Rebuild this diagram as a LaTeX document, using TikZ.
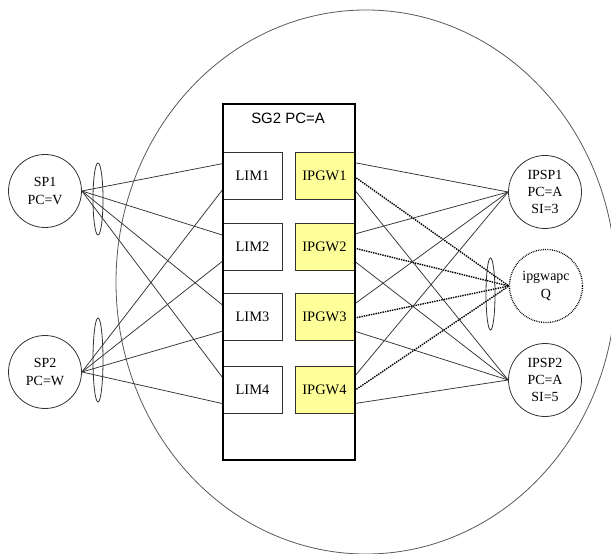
\documentclass[tikz,border=0pt]{standalone}
\usepackage{fontspec}
\setmainfont{Liberation Serif}
\newfontfamily\arialf{Liberation Sans}
\definecolor{gwyellow}{RGB}{255,255,153}
\definecolor{linegray}{RGB}{50,50,50}
\begin{document}
\begin{tikzpicture}[x=1bp,y=-1bp,
  conn/.style={draw=linegray, line width=0.75bp},
  dotconn/.style={draw=black, line width=1.4bp, densely dotted},
  limbox/.style={draw=linegray, line width=0.8bp, minimum width=59bp, minimum height=47bp, inner sep=0pt, font=\fontsize{14.5}{16}\selectfont},
  gwbox/.style={limbox, fill=gwyellow},
  station/.style={circle, draw=linegray, line width=0.8bp, minimum size=73bp, inner sep=0pt, align=center, font=\fontsize{14}{17.5}\selectfont},
  outerbox/.style={draw=black, line width=1.8bp, minimum width=132bp, minimum height=356bp, inner sep=0pt},
  thinring/.style={draw=linegray, line width=0.8bp}
]
\useasboundingbox (0,0) rectangle (611,554);
\begin{scope}
  \clip (0,0) rectangle (611,554);
  \draw[draw=black!65, line width=0.8bp] (366,282) ellipse [x radius=250bp, y radius=272bp];
\end{scope}

% stations
\node[station] (SP1) at (45,191) {SP1\\PC=V};
\node[station] (SP2) at (45,372) {SP2\\PC=W};
\node[station] (IPSP1) at (545,192) {IPSP1\\PC=A\\SI=3};
\node[station, draw=black, densely dotted, line width=1.3bp] (APC) at (546,286) {ipgwapc\\Q};
\node[station] (IPSP2) at (545,380) {IPSP2\\PC=A\\SI=5};

% link-set ellipses
\draw[thinring] (98,199) ellipse [x radius=5bp, y radius=36bp];
\draw[thinring] (98,360) ellipse [x radius=5bp, y radius=42bp];
\draw[thinring] (490.5,294) ellipse [x radius=4.5bp, y radius=36bp];

% outer box and inner boxes
\node[outerbox] (SG2) at (289,282) {};
\node[font=\arialf\fontsize{15}{17}\selectfont] (title) at (288,118) {SG2 PC=A};

\foreach \i/\y in {1/175.5,2/247,3/317,4/389.5}{
  \node[limbox] (LIM\i) at (252.5,\y) {LIM\i};
  \node[gwbox] (GW\i) at (324.5,\y) {IPGW\i};
}

% connectors
\foreach \i in {1,2,3,4}{
  \draw[conn] (SP1.east) -- ([yshift=-12bp]LIM\i.north west);
  \draw[conn] (SP2.east) -- ([yshift=-38bp]LIM\i.north west);
  \draw[conn] ([yshift=-11bp]GW\i.north east) -- (IPSP1.west);
  \draw[dotconn] ([yshift=-25bp]GW\i.north east) -- (APC.west);
  \draw[conn] ([yshift=-38bp]GW\i.north east) -- (IPSP2.west);
}
\node[outerbox] at (SG2) {};
\end{tikzpicture}
\end{document}
